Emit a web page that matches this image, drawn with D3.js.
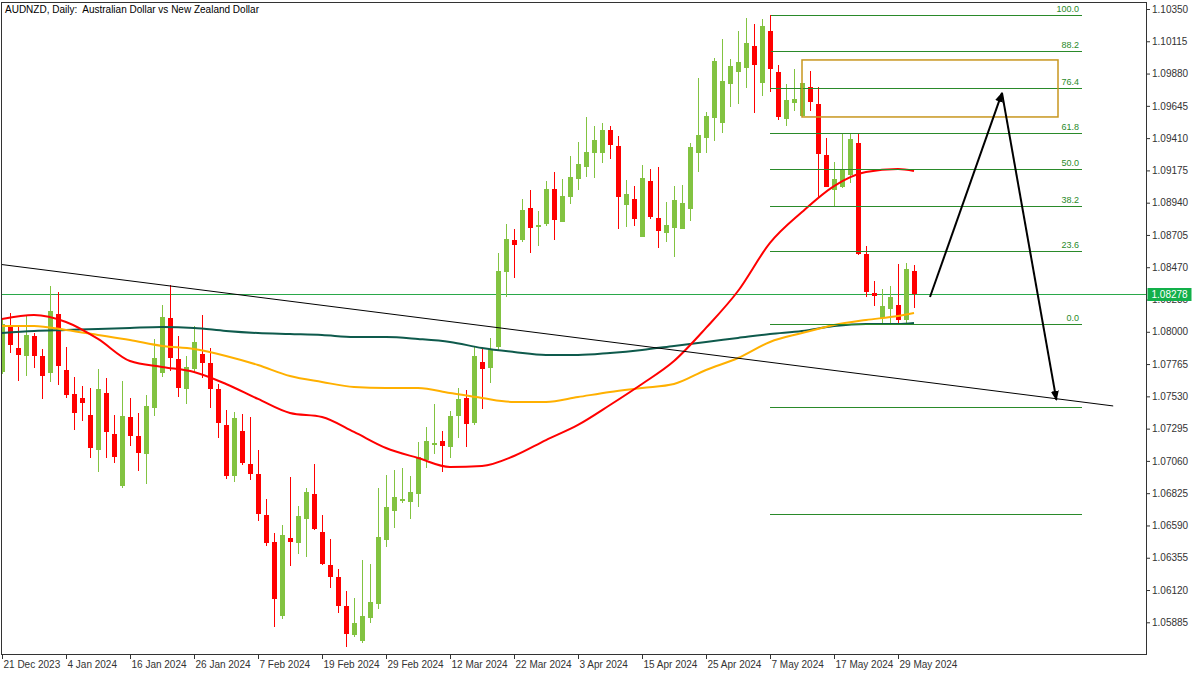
<!DOCTYPE html>
<html><head><meta charset="utf-8">
<script src="https://cdn.jsdelivr.net/npm/d3@7"></script>
<style>body{margin:0;background:#fff;}svg{display:block;}text{font-family:"Liberation Sans",Arial,sans-serif;}</style>
</head><body><svg id="c" width="1200" height="675"></svg>
<script>
// ---------------- DATA ----------------
const title = "AUDNZD, Daily:  Australian Dollar vs New Zealand Dollar";
const openP = [1.07707,1.08035,1.07882,1.07824,1.07969,1.07824,1.07700,1.08130,1.07722,1.07547,
1.07518,1.07394,1.07140,1.07555,1.07256,1.06877,1.07380,1.07241,1.07110,1.07445,
1.07700,1.08101,1.07802,1.07584,1.07729,1.07838,1.07773,1.07584,1.07322,1.06950,
1.07278,1.07038,1.06965,1.06666,1.06470,1.05931,1.06499,1.06463,1.06637,1.06819,
1.06543,1.06302,1.06215,1.06004,1.05793,1.05749,1.05917,1.06018,1.06484,1.06695,
1.06768,1.06761,1.06819,1.07067,1.07176,1.07205,1.07161,1.07387,1.07518,1.07336,
1.07780,1.07737,1.07889,1.08435,1.08668,1.08668,1.08901,1.08763,1.08785,1.09040,
1.08799,1.08981,1.09112,1.09200,1.09302,1.09302,1.09469,1.09353,1.08923,1.08967,
1.08690,1.09098,1.08829,1.08719,1.08756,1.08748,1.08894,1.09302,1.09411,1.09557,
1.09520,1.09804,1.09891,1.09921,1.10081,1.09811,1.10190,1.09891,1.09549,1.09666,
1.09571,1.09782,1.09658,1.09287,1.09032,1.09054,1.09142,1.09375,1.08566,1.08283,
1.08101,1.08166,1.08195,1.08086,1.08443];
const highP = [1.08101,1.08137,1.08035,1.08115,1.07991,1.07875,1.08333,1.08290,1.07889,1.07671,
1.07605,1.07591,1.07729,1.07664,1.07394,1.07642,1.07518,1.07409,1.07540,1.07948,
1.08195,1.08341,1.07969,1.07824,1.08042,1.08122,1.07882,1.07620,1.07431,1.07416,
1.07402,1.07380,1.07140,1.06783,1.06535,1.06594,1.06943,1.06732,1.06863,1.07038,
1.06666,1.06492,1.06273,1.06113,1.06062,1.06339,1.06310,1.06863,1.06958,1.06994,
1.07009,1.06950,1.07198,1.07307,1.07474,1.07278,1.07423,1.07591,1.07576,1.07889,
1.07882,1.07955,1.08574,1.08785,1.08748,1.08967,1.09032,1.08879,1.09098,1.09163,
1.09112,1.09280,1.09382,1.09564,1.09498,1.09520,1.09498,1.09425,1.09105,1.09061,
1.09214,1.09185,1.09200,1.08945,1.09061,1.09069,1.09375,1.09848,1.09600,1.09993,
1.10132,1.09986,1.10190,1.10285,1.10241,1.10277,1.10306,1.09942,1.09804,1.09913,
1.09811,1.09899,1.09782,1.09411,1.09236,1.09440,1.09440,1.09440,1.08625,1.08370,
1.08312,1.08333,1.08494,1.08501,1.08486];
const lowP = [1.07693,1.07846,1.07642,1.07678,1.07737,1.07511,1.07635,1.07613,1.07518,1.07285,
1.07351,1.07081,1.06979,1.07081,1.07045,1.06863,1.07169,1.06987,1.06892,1.07387,
1.07671,1.07715,1.07525,1.07474,1.07707,1.07664,1.07445,1.07227,1.06928,1.06907,
1.07030,1.06921,1.06623,1.06441,1.05851,1.05909,1.06295,1.06382,1.06361,1.06557,
1.06302,1.06135,1.05953,1.05705,1.05778,1.05735,1.05880,1.05982,1.06433,1.06572,
1.06754,1.06637,1.06725,1.07009,1.07110,1.06979,1.07081,1.07227,1.07161,1.07322,
1.07438,1.07627,1.07868,1.08253,1.08392,1.08654,1.08574,1.08625,1.08770,1.08668,
1.08799,1.08930,1.09032,1.09127,1.09120,1.09229,1.09258,1.08748,1.08763,1.08770,
1.08690,1.08821,1.08610,1.08654,1.08545,1.08748,1.08807,1.09163,1.09302,1.09389,
1.09447,1.09637,1.09658,1.09775,1.09593,1.09717,1.09746,1.09542,1.09498,1.09607,
1.09571,1.09607,1.08974,1.09054,1.08916,1.09047,1.09083,1.08559,1.08253,1.08188,
1.08064,1.08064,1.08064,1.08064,1.08173];
const closeP = [1.08057,1.07904,1.07831,1.07977,1.07824,1.07678,1.08151,1.07751,1.07540,1.07409,
1.07482,1.07154,1.07584,1.07271,1.07089,1.07387,1.07241,1.07118,1.07460,1.07809,
1.08108,1.07809,1.07591,1.07744,1.07926,1.07773,1.07584,1.07336,1.06950,1.07373,
1.07045,1.06965,1.06674,1.06463,1.06055,1.06521,1.06470,1.06659,1.06834,1.06564,
1.06310,1.06215,1.06004,1.05800,1.05880,1.05931,1.06033,1.06506,1.06725,1.06797,
1.06783,1.06834,1.07089,1.07205,1.07191,1.07169,1.07387,1.07511,1.07329,1.07824,
1.07729,1.07868,1.08443,1.08676,1.08632,1.08887,1.08756,1.08778,1.09040,1.08814,
1.08989,1.09127,1.09222,1.09309,1.09396,1.09469,1.09360,1.08981,1.09003,1.08821,
1.09120,1.08836,1.08734,1.08778,1.08960,1.08938,1.09345,1.09433,1.09571,1.09971,
1.09826,1.09935,1.09964,1.10103,1.09942,1.10226,1.09913,1.09564,1.09688,1.09695,
1.09811,1.09673,1.09294,1.09054,1.09112,1.09185,1.09404,1.08566,1.08290,1.08261,
1.08188,1.08253,1.08086,1.08457,1.08278];

// moving averages sampled at these bars
const maBars = [0,4,8,12,16,20,24,28,32,36,40,44,48,52,56,60,64,68,72,76,80,84,88,92,96,100,104,108,112,114];
const maRed = [1.08093,1.08122,1.08071,1.07948,1.07787,1.07744,1.07707,1.07620,1.07511,1.07409,
1.07380,1.07271,1.07154,1.07081,1.07016,1.07023,1.07096,1.07212,1.07322,1.07467,
1.07620,1.07787,1.08028,1.08297,1.08647,1.08872,1.09061,1.09163,1.09185,1.09171];
const maOrange = [1.08042,1.08042,1.08013,1.07977,1.07940,1.07897,1.07875,1.07824,1.07758,1.07678,
1.07635,1.07598,1.07591,1.07591,1.07555,1.07518,1.07489,1.07489,1.07525,1.07562,
1.07591,1.07620,1.07722,1.07809,1.07926,1.07991,1.08050,1.08086,1.08115,1.08137];
const maTeal = [1.07991,1.08006,1.08013,1.08020,1.08028,1.08035,1.08028,1.08006,1.07991,1.07984,
1.07977,1.07962,1.07962,1.07948,1.07926,1.07882,1.07853,1.07831,1.07831,1.07846,
1.07868,1.07897,1.07926,1.07955,1.07984,1.08006,1.08042,1.08057,1.08057,1.08064];

const dateTickBars = [0,8,16,24,32,40,48,56,64,72,80,88,96,104,112];
const dateTickLabels = ["21 Dec 2023","4 Jan 2024","16 Jan 2024","26 Jan 2024","7 Feb 2024","19 Feb 2024","29 Feb 2024","12 Mar 2024","22 Mar 2024","3 Apr 2024","15 Apr 2024","25 Apr 2024","7 May 2024","17 May 2024","29 May 2024"];
const priceTickLabels = ["1.10350","1.10115","1.09880","1.09645","1.09410","1.09175","1.08940","1.08705","1.08470","1.08235","1.08000","1.07765","1.07530","1.07295","1.07060","1.06825","1.06590","1.06355","1.06120","1.05885"];

const currentPrice = 1.08278;
const fibHigh = 1.10306, fibLow = 1.08060;
const fibStartBar = 96, fibEndBar = 135;
const fibLevels = [0, 23.6, 38.2, 50.0, 61.8, 76.4, 88.2, 100.0];
const fibExtLevels = [-27.2, -61.8];
const zoneBars = [100, 132], zonePrices = [1.09979, 1.09564];
const trendBars = [-0.5, 138.9], trendPrices = [1.08493, 1.07460];
const arrowBars = [116, 125, 131.8], arrowPrices = [1.08253, 1.09739, 1.07504];

// ---------------- CHART ----------------
const svg = d3.select("#c");
const plotL = 1.5, plotR = 1146.5, plotT = 2.5, plotB = 654.5;
const x = d3.scaleLinear().domain([0, 114]).range([2, 914]);
const y = d3.scaleLinear().domain([1.05885, 1.10350]).range([622.3, 9]);

svg.append("defs").append("clipPath").attr("id","clip")
  .append("rect").attr("x",plotL).attr("y",plotT).attr("width",plotR-plotL).attr("height",plotB-plotT);
svg.select("defs").append("marker").attr("id","ah").attr("viewBox","0 0 10 10")
  .attr("refX",9).attr("refY",5).attr("markerWidth",5).attr("markerHeight",5)
  .attr("orient","auto").attr("markerUnits","strokeWidth")
  .append("path").attr("d","M0,1 L10,5 L0,9 Z").attr("fill","#000");

const g = svg.append("g").attr("clip-path","url(#clip)");

// current price line
g.append("line").attr("x1",plotL).attr("x2",plotR)
  .attr("y1",Math.round(y(currentPrice))+0.5).attr("y2",Math.round(y(currentPrice))+0.5)
  .attr("stroke","#2aa84a").attr("stroke-width",1);

// candles
const bars = d3.range(openP.length).map(i=>({i,o:openP[i],h:highP[i],l:lowP[i],c:closeP[i]}));
const up = "#82c341", dn = "#ff0000";
const cg = g.append("g");
cg.selectAll("rect.w").data(bars).join("rect").attr("class","w")
  .attr("x",d=>Math.round(x(d.i))).attr("width",1)
  .attr("y",d=>Math.round(y(d.h))).attr("height",d=>Math.max(1,Math.round(y(d.l))-Math.round(y(d.h))))
  .attr("fill",d=>d.c>=d.o?up:dn);
cg.selectAll("rect.b").data(bars).join("rect").attr("class","b")
  .attr("x",d=>Math.round(x(d.i))-2).attr("width",5)
  .attr("y",d=>Math.round(y(Math.max(d.o,d.c))))
  .attr("height",d=>Math.max(2,Math.round(y(Math.min(d.o,d.c)))-Math.round(y(Math.max(d.o,d.c)))))
  .attr("fill",d=>d.c>=d.o?up:dn);

// moving averages
const ma = (vals,color)=>g.append("path")
  .datum(maBars.map((b,k)=>[b,vals[k]]))
  .attr("d",d3.line().x(d=>x(d[0])).y(d=>y(d[1])).curve(d3.curveMonotoneX))
  .attr("fill","none").attr("stroke",color).attr("stroke-width",2);
ma(maTeal,"#0e5a4c");
ma(maOrange,"#ffb000");
ma(maRed,"#ff0000");

// trend line
g.append("line").attr("x1",x(trendBars[0])).attr("y1",y(trendPrices[0]))
  .attr("x2",x(trendBars[1])).attr("y2",y(trendPrices[1]))
  .attr("stroke","#000").attr("stroke-width",1);

// fibonacci
const fibPrice = lv => fibLow + (fibHigh-fibLow)*lv/100;
const fg = g.append("g");
[...fibLevels,...fibExtLevels].forEach(lv=>{
  const yy = Math.round(y(fibPrice(lv)))+0.5;
  fg.append("line").attr("x1",x(fibStartBar)).attr("x2",x(fibEndBar)).attr("y1",yy).attr("y2",yy)
    .attr("stroke","#2a8a2a").attr("stroke-width",1);
});
fibLevels.forEach(lv=>{
  fg.append("text").attr("x",x(fibEndBar)-3).attr("y",y(fibPrice(lv))-3)
    .attr("text-anchor","end").attr("font-size",9).attr("fill","#2a8a2a").text(lv.toFixed(1));
});
fg.append("line").attr("x1",x(fibStartBar)+0.5).attr("x2",x(fibStartBar)+0.5)
  .attr("y1",y(fibPrice(100))).attr("y2",y(fibPrice(76.4))).attr("stroke","#ff0000");

// zone rectangle
g.append("rect").attr("x",x(zoneBars[0])).attr("y",y(zonePrices[0]))
  .attr("width",x(zoneBars[1])-x(zoneBars[0])).attr("height",y(zonePrices[1])-y(zonePrices[0]))
  .attr("fill","none").attr("stroke","#c8961e").attr("stroke-width",1.5);

// arrows
for(let k=0;k<2;k++){
  g.append("line").attr("x1",x(arrowBars[k])).attr("y1",y(arrowPrices[k]))
    .attr("x2",x(arrowBars[k+1])).attr("y2",y(arrowPrices[k+1]))
    .attr("stroke","#000").attr("stroke-width",2).attr("marker-end","url(#ah)");
}

// frame
svg.append("rect").attr("x",plotL).attr("y",plotT).attr("width",plotR-plotL).attr("height",plotB-plotT)
  .attr("fill","none").attr("stroke","#333").attr("stroke-width",1);

// right axis
const ya = svg.append("g").attr("transform",`translate(${plotR-0.5},0)`)
  .call(d3.axisRight(y).tickValues(priceTickLabels.map(Number)).tickSize(4).tickFormat(d3.format(".5f")));
ya.select(".domain").remove();
ya.selectAll("line").attr("stroke","#333");
ya.selectAll("text").attr("font-size",10).attr("fill","#333").attr("font-family","Liberation Sans, Arial, sans-serif").attr("x",6);

// bottom axis
const xa = svg.append("g").attr("transform",`translate(0,${plotB-0.5})`)
  .call(d3.axisBottom(x).tickValues(dateTickBars).tickSize(5).tickFormat((d,i)=>dateTickLabels[i]));
xa.select(".domain").remove();
xa.selectAll("line").attr("stroke","#333");
xa.selectAll("text").attr("font-size",10).attr("fill","#333").attr("font-family","Liberation Sans, Arial, sans-serif")
  .attr("text-anchor","start").attr("x",1).attr("y",7);

// current price label
const cy = y(currentPrice);
svg.append("rect").attr("x",plotR+1).attr("y",Math.round(cy)-6).attr("width",44).attr("height",13).attr("fill","#12b04a");
svg.append("text").attr("x",plotR+5).attr("y",Math.round(cy)+4).attr("font-size",10).attr("fill","#fff").text(currentPrice.toFixed(5));

// title
svg.append("text").attr("x",5).attr("y",13).attr("font-size",10).attr("fill","#000")
  .style("white-space","pre").attr("xml:space","preserve").text(title);
</script></body></html>
